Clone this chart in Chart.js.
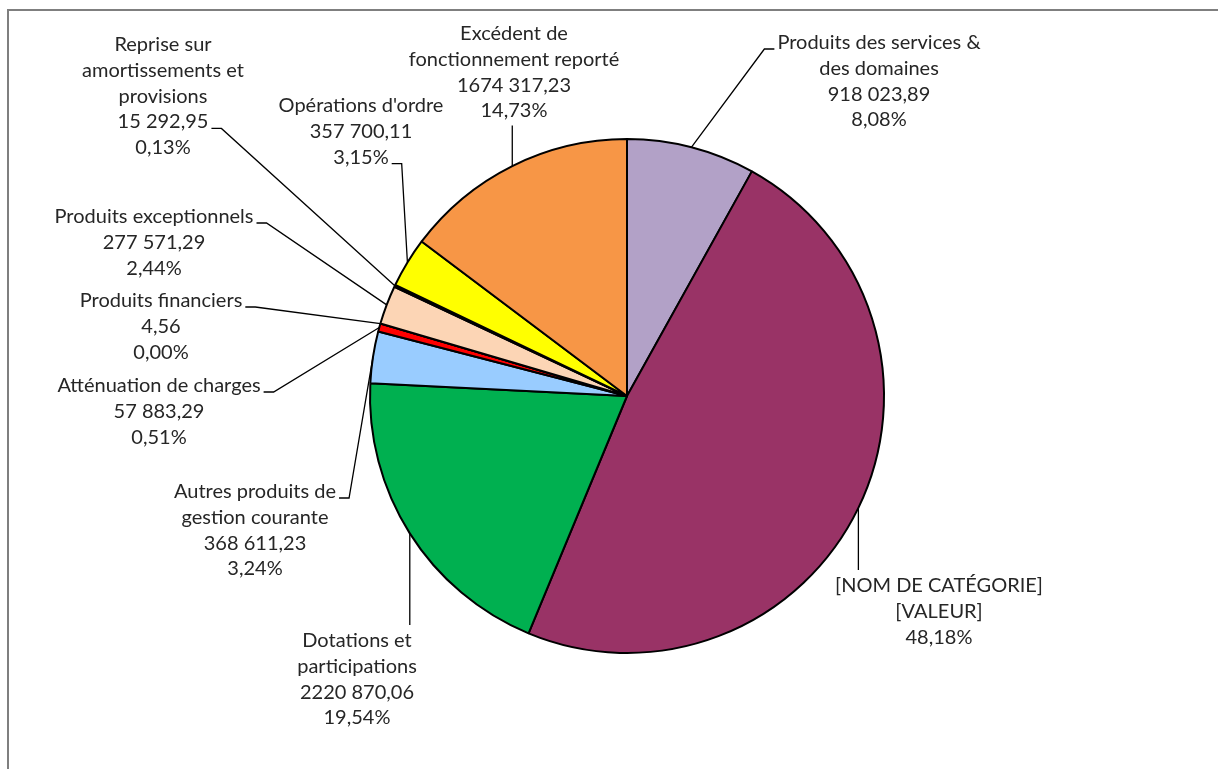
<!DOCTYPE html>
<html lang="fr">
<head>
<meta charset="utf-8">
<title>Recettes de fonctionnement</title>
<style>
  html, body { margin: 0; padding: 0; background: #fff; overflow: hidden; }
  .wrap { position: relative; width: 1218px; height: 769px; }
  .frame { position: absolute; left: 7px; top: 9px; width: 1400px; height: 1000px; border: 2px solid #7f7f7f; box-sizing: border-box; }
  canvas { position: absolute; left: 0; top: 0; }
</style>
<script src="https://cdn.jsdelivr.net/npm/chart.js@4.4.1/dist/chart.umd.min.js"></script>
</head>
<body>
<div class="wrap">
  <div class="frame"></div>
  <canvas id="pieChart" width="1218" height="769"></canvas>
</div>
<script>
/* Pie of operating revenues, labels placed Excel-style with leader lines. */

const categories = [
  ["Produits des services &", "des domaines"],
  ["[NOM DE CATÉGORIE]"],
  ["Dotations et", "participations"],
  ["Autres produits de", "gestion courante"],
  ["Atténuation de charges"],
  ["Produits financiers"],
  ["Produits exceptionnels"],
  ["Reprise sur", "amortissements et", "provisions"],
  ["Opérations d'ordre"],
  ["Excédent de", "fonctionnement reporté"],
];

const values = [
  918023.89, 5476520.0, 2220870.06, 368611.23, 57883.29,
  4.56, 277571.29, 15292.95, 357700.11, 1674317.23,
];

// the second slice shows the placeholder text instead of its value
const valueTexts = [null, "[VALEUR]", null, null, null, null, null, null, null, null];

const colors = [
  "#b2a1c7", "#993366", "#00b050", "#99ccff", "#ff0000",
  "#7f7f7f", "#fcd5b5", "#404040", "#ffff00", "#f79646",
];

// label placement: centre x, baseline of first line, where the leader leaves the text
const labelLayout = [
  { cx: 879, y: 49, leader: "left", line: 0 },
  { cx: 939, y: 592, leader: "top" },
  { cx: 357, y: 647, leader: "top" },
  { cx: 255, y: 498, leader: "right", line: 0 },
  { cx: 159, y: 392, leader: "right", line: 0 },
  { cx: 161, y: 307, leader: "right", line: 0 },
  { cx: 154, y: 223, leader: "right", line: 0 },
  { cx: 163, y: 51, leader: "right", line: 3 },
  { cx: 361, y: 112, leader: "right", line: 2 },
  { cx: 514, y: 40, leader: "bottom" },
];

const FONT = "20px Lato";
const LINE_H = 25.8;
const TEXT_COLOR = "#262626";

function fmtNum(v) {
  const [int, dec] = v.toFixed(2).split(".");
  const head = int.length > 3 ? int.slice(0, -3) + " " + int.slice(-3) : int;
  return head + "," + dec;
}

function fmtPct(v, total) {
  return ((v / total) * 100).toFixed(2).replace(".", ",") + "%";
}

const pieLabels = {
  id: "pieLabels",
  afterDatasetsDraw(chart) {
    const ctx = chart.ctx;
    const meta = chart.getDatasetMeta(0);
    const total = values.reduce((a, b) => a + b, 0);

    ctx.save();
    ctx.font = FONT;
    ctx.textAlign = "center";
    ctx.textBaseline = "alphabetic";

    meta.data.forEach((arc, i) => {
      const p = arc.getProps(["x", "y", "startAngle", "endAngle", "outerRadius"], true);
      const mid = (p.startAngle + p.endAngle) / 2;
      const ax = p.x + Math.cos(mid) * p.outerRadius;
      const ay = p.y + Math.sin(mid) * p.outerRadius;

      const lines = [
        ...categories[i],
        valueTexts[i] || fmtNum(values[i]),
        fmtPct(values[i], total),
      ];
      const lay = labelLayout[i];

      ctx.fillStyle = TEXT_COLOR;
      lines.forEach((t, k) => ctx.fillText(t, lay.cx, lay.y + k * LINE_H));

      ctx.beginPath();
      ctx.strokeStyle = "#000";
      ctx.lineWidth = 1.3;
      if (lay.leader === "left" || lay.leader === "right") {
        const w = ctx.measureText(lines[lay.line]).width;
        const dir = lay.leader === "right" ? 1 : -1;
        const sx = lay.cx + dir * (w / 2 + 3);
        const sy = lay.y + lay.line * LINE_H;
        ctx.moveTo(sx, sy);
        ctx.lineTo(sx + dir * 10, sy);
        ctx.lineTo(ax, ay);
      } else if (lay.leader === "top") {
        ctx.moveTo(ax, lay.y - 22);
        ctx.lineTo(ax, ay);
      } else {
        ctx.moveTo(ax, lay.y + (lines.length - 1) * LINE_H + 8);
        ctx.lineTo(ax, ay);
      }
      ctx.stroke();
    });
    ctx.restore();
  },
};

function initPie() {
  const canvas = document.getElementById("pieChart");
  new Chart(canvas, {
    type: "pie",
    data: {
      labels: categories.map((c) => c.join(" ")),
      datasets: [
        {
          data: values,
          backgroundColor: colors,
          borderColor: "#000",
          borderWidth: 2,
        },
      ],
    },
    options: {
      responsive: false,
      animation: false,
      layout: { padding: { left: 300, right: 264, top: 138, bottom: 115 } },
      plugins: {
        legend: { display: false },
        tooltip: { enabled: false },
      },
    },
    plugins: [pieLabels],
  });
}

document.fonts.load(FONT).then(initPie, initPie);
</script>
</body>
</html>
